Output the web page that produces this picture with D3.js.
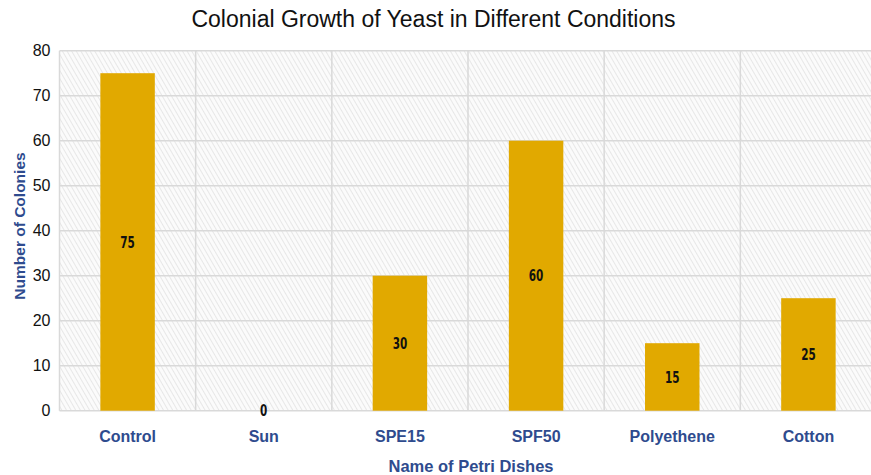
<!DOCTYPE html>
<html>
<head>
<meta charset="utf-8">
<script src="https://cdn.jsdelivr.net/npm/d3@7"></script>
<style>
  html, body { margin: 0; padding: 0; background: #fff; }
  svg { display: block; }
</style>
</head>
<body>
<svg id="chart" width="871" height="475"></svg>
<script>
const categories = ["Control", "Sun", "SPE15", "SPF50", "Polyethene", "Cotton"];
const colonies = [75, 0, 30, 60, 15, 25];
const yTicks = [0, 10, 20, 30, 40, 50, 60, 70, 80];
const title = "Colonial Growth of Yeast in Different Conditions";
const xTitle = "Name of Petri Dishes";
const yTitle = "Number of Colonies";

const W = 871, H = 475;
const plot = { left: 59.5, right: 876.5, top: 50.7, bottom: 410.7 };
const blue = "#2E4B8E";
const barColor = "#E1A900";
const gridColor = "#d9d9d9";

const svg = d3.select("#chart");

const defs = svg.append("defs");
const pat = defs.append("pattern")
  .attr("id", "hatch")
  .attr("patternUnits", "userSpaceOnUse")
  .attr("width", 4).attr("height", 4)
  .attr("patternTransform", "rotate(-30)");
pat.append("rect").attr("width", 4).attr("height", 4).attr("fill", "#fbfbfb");
pat.append("line").attr("x1", 0).attr("y1", 0).attr("x2", 0).attr("y2", 4)
  .attr("stroke", "#e2e2e2").attr("stroke-width", 1.6);

const cell = d3.scaleBand().domain(categories).range([plot.left, plot.right]).padding(0);
const xBar = d3.scaleBand().domain(categories).range([plot.left, plot.right])
  .paddingInner(0.6).paddingOuter(0.3);
const y = d3.scaleLinear().domain([0, 80]).range([plot.bottom, plot.top]);

// background
svg.append("rect")
  .attr("x", plot.left).attr("y", plot.top)
  .attr("width", plot.right - plot.left).attr("height", plot.bottom - plot.top)
  .attr("fill", "url(#hatch)");

// horizontal gridlines
svg.append("g").selectAll("line").data(yTicks).join("line")
  .attr("x1", plot.left).attr("x2", plot.right)
  .attr("y1", d => y(d)).attr("y2", d => y(d))
  .attr("stroke", gridColor).attr("stroke-width", 1.5);

// vertical gridlines at band boundaries
const bounds = categories.map(c => cell(c)).concat([cell(categories[categories.length-1]) + cell.bandwidth()]);
svg.append("g").selectAll("line").data(bounds).join("line")
  .attr("x1", d => d).attr("x2", d => d)
  .attr("y1", plot.top).attr("y2", plot.bottom)
  .attr("stroke", gridColor).attr("stroke-width", 1.5);

// bars
svg.append("g").selectAll("rect").data(categories).join("rect")
  .attr("x", d => xBar(d))
  .attr("width", xBar.bandwidth())
  .attr("y", (d, i) => y(colonies[i]))
  .attr("height", (d, i) => y(0) - y(colonies[i]))
  .attr("fill", barColor);

// bar labels (narrow bold look)
svg.append("g").selectAll("text").data(categories).join("text")
  .attr("transform", (d, i) => `translate(${xBar(d) + xBar.bandwidth() / 2},${y(colonies[i] / 2)}) scale(0.75,1)`)
  .attr("dy", "0.36em")
  .attr("text-anchor", "middle")
  .attr("font-family", "'DejaVu Sans Condensed', 'DejaVu Sans', sans-serif")
  .attr("font-weight", "bold")
  .attr("font-size", 15.5)
  .attr("fill", "#111")
  .text((d, i) => colonies[i]);

// y axis tick labels
const yAxis = d3.axisLeft(y).tickValues(yTicks).tickSize(0).tickPadding(9);
const yg = svg.append("g").attr("transform", `translate(${plot.left},0)`).call(yAxis);
yg.select(".domain").remove();
yg.selectAll("text")
  .attr("font-family", "'Liberation Sans', Arial, sans-serif")
  .attr("font-size", 16)
  .attr("fill", "#111");

// x axis labels
const xAxis = d3.axisBottom(xBar).tickSize(0).tickPadding(20);
const xg = svg.append("g").attr("transform", `translate(0,${plot.bottom})`).call(xAxis);
xg.select(".domain").remove();
xg.selectAll("text")
  .attr("font-family", "'Liberation Sans', Arial, sans-serif")
  .attr("font-size", 16)
  .attr("font-weight", "bold")
  .attr("fill", blue);

// title
svg.append("text")
  .attr("x", 433.5).attr("y", 27)
  .attr("text-anchor", "middle")
  .attr("font-family", "'Liberation Sans', Arial, sans-serif")
  .attr("font-size", 23)
  .attr("fill", "#111")
  .text(title);

// axis titles
svg.append("text")
  .attr("x", 471).attr("y", 472)
  .attr("text-anchor", "middle")
  .attr("font-family", "'Liberation Sans', Arial, sans-serif")
  .attr("font-size", 16.5)
  .attr("font-weight", "bold")
  .attr("fill", blue)
  .text(xTitle);

svg.append("text")
  .attr("transform", "translate(25,226) rotate(-90)")
  .attr("text-anchor", "middle")
  .attr("font-family", "'Liberation Sans', Arial, sans-serif")
  .attr("font-size", 15.5)
  .attr("font-weight", "bold")
  .attr("fill", blue)
  .text(yTitle);
</script>
</body>
</html>
